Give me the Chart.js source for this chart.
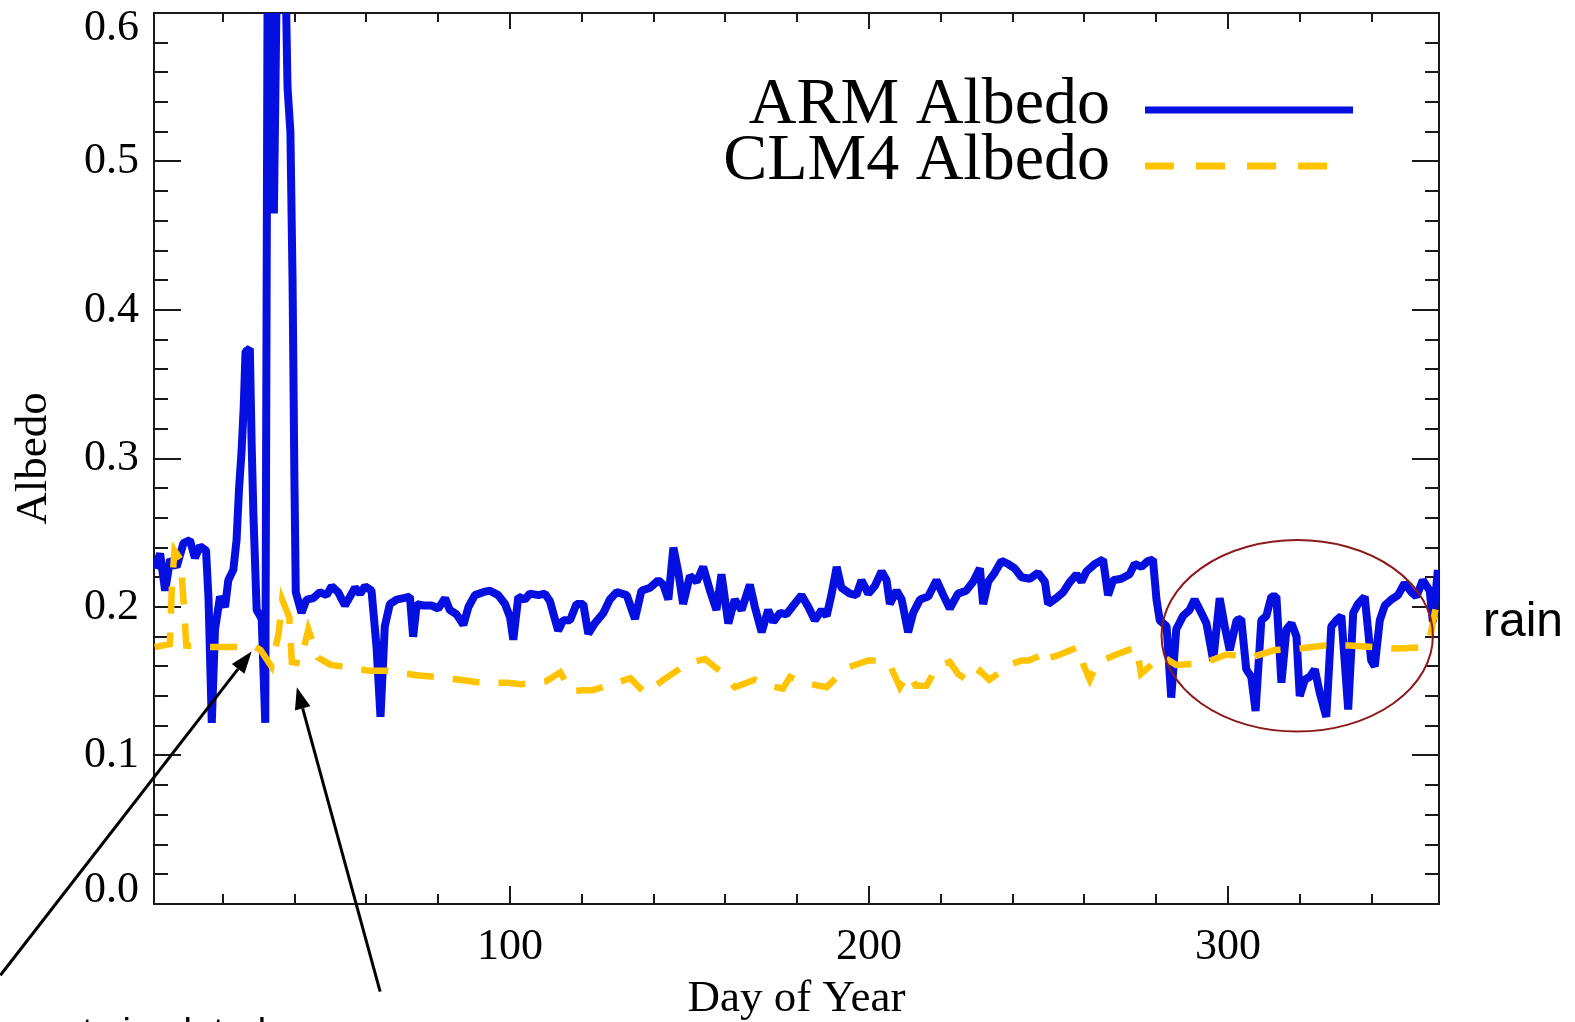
<!DOCTYPE html>
<html>
<head>
<meta charset="utf-8">
<title>ARM vs CLM4 albedo</title>
<script src="https://cdn.jsdelivr.net/npm/chart.js@4.4.1/dist/chart.umd.min.js"></script>
<style>
  html, body { margin: 0; padding: 0; background: #fff; }
  canvas { display: block; }
</style>
</head>
<body>
<canvas id="albedo" width="1575" height="1022"></canvas>
<script>
/* Daily surface albedo at the ARM site: observed vs CLM4 */

var armDay = [1, 2.5, 3.9, 5.3, 7.1, 9, 10.8, 12.2, 13.6, 15.3, 16, 16.9, 17.8, 19.2, 20.6, 21.5,
  22.9, 23.8, 24.5, 25.2, 25.8, 26.3, 27.5, 28, 28.5, 29.4, 30.8, 31.8, 32.5, 33.3, 34.2, 35.2,
  36.2, 37.2, 38, 38.8, 39.4, 39.9, 40.3, 41.9, 43.3, 45.2, 47, 48.9, 50.3, 52.1, 54, 55.4, 56.8,
  58.2, 59.6, 61.4, 62.8, 63.9, 65.1, 66.5, 68.4, 70.3, 72.1, 73, 74, 75.8, 78.1, 80, 81.9, 83.2,
  85.1, 87, 88.4, 90.2, 92.5, 94.4, 96.7, 98.6, 100, 100.9, 102.3, 104.1, 105.5, 107.9, 109.7,
  111.1, 113.4, 114.8, 116.7, 118.5, 120.4, 121.8, 123.6, 126, 127.8, 129.7, 132.5, 134.8, 136.6,
  139, 141.3, 142.7, 144.1, 145.5, 146.9, 148.2, 150.1, 152, 153.8, 155.7, 157.5, 158.9, 160.8,
  162.6, 164.5, 166.8, 168.2, 170.1, 171.9, 173.3, 175.2, 177, 178.9, 181.2, 183.1, 184.9, 186.8,
  188.2, 189.6, 191, 192.3, 194.7, 196.5, 197.9, 199.8, 201.6, 203.5, 204.9, 205.8, 207.7, 209.1,
  210.9, 212.3, 214.2, 216.5, 218.8, 220.7, 222.5, 224.8, 227.1, 229, 230.9, 231.8, 233.2, 235,
  236.9, 238.7, 240.6, 242.5, 244.8, 247.1, 249, 249.9, 252.2, 254.1, 256, 257.8, 259.2, 260.6,
  262.9, 265.2, 266.6, 268, 270.3, 272.6, 274, 275.9, 277.7, 279.1, 280.1, 281, 282.9, 284.2,
  285.6, 287.5, 289.3, 290.7, 292.6, 294, 295.9, 297.7, 299.1, 300.5, 302.4, 303.7, 305.1, 306.5,
  307.7, 309.3, 310.7, 312.1, 313.5, 314.9, 316.3, 317.7, 319.1, 320, 321.4, 322.8, 324.2, 325.6,
  327.4, 328.8, 330.2, 331.6, 333.5, 334.9, 336.2, 338.1, 339.9, 340.9, 342.3, 343.7, 345.5, 347.4,
  349.2, 351.1, 352.5, 354.3, 356.2, 357.1, 358.5];

var armAlbedo = [0.226, 0.236, 0.211, 0.232, 0.227, 0.243, 0.245, 0.233, 0.241, 0.238, 0.205, 0.122,
  0.185, 0.207, 0.200, 0.218, 0.225, 0.245, 0.280, 0.305, 0.335, 0.372, 0.374, 0.310, 0.262, 0.198,
  0.192, 0.122, 0.660, 0.640, 0.465, 0.660, 0.700, 0.660, 0.550, 0.520, 0.420, 0.290, 0.210, 0.196,
  0.205, 0.206, 0.210, 0.208, 0.214, 0.210, 0.201, 0.207, 0.213, 0.209, 0.214, 0.211, 0.173, 0.126,
  0.187, 0.202, 0.205, 0.206, 0.207, 0.180, 0.202, 0.201, 0.201, 0.199, 0.206, 0.198, 0.195, 0.188,
  0.200, 0.208, 0.210, 0.211, 0.208, 0.202, 0.193, 0.178, 0.207, 0.205, 0.209, 0.208, 0.209, 0.204,
  0.184, 0.191, 0.191, 0.202, 0.202, 0.182, 0.189, 0.196, 0.205, 0.210, 0.208, 0.192, 0.211, 0.213,
  0.218, 0.215, 0.205, 0.240, 0.223, 0.202, 0.221, 0.217, 0.227, 0.211, 0.198, 0.222, 0.189, 0.205,
  0.198, 0.215, 0.200, 0.183, 0.198, 0.190, 0.196, 0.195, 0.201, 0.208, 0.200, 0.191, 0.198, 0.194,
  0.209, 0.227, 0.213, 0.209, 0.208, 0.218, 0.209, 0.214, 0.224, 0.218, 0.202, 0.211, 0.205, 0.183,
  0.196, 0.205, 0.207, 0.218, 0.208, 0.199, 0.209, 0.211, 0.217, 0.226, 0.202, 0.217, 0.223, 0.231,
  0.229, 0.226, 0.220, 0.219, 0.223, 0.217, 0.202, 0.206, 0.210, 0.217, 0.222, 0.217, 0.224, 0.229,
  0.232, 0.208, 0.218, 0.219, 0.222, 0.229, 0.227, 0.231, 0.232, 0.205, 0.191, 0.187, 0.139, 0.185,
  0.194, 0.198, 0.205, 0.196, 0.189, 0.164, 0.206, 0.187, 0.171, 0.191, 0.192, 0.158, 0.153, 0.130,
  0.191, 0.194, 0.207, 0.207, 0.149, 0.185, 0.189, 0.180, 0.140, 0.151, 0.153, 0.158, 0.142, 0.126,
  0.187, 0.191, 0.194, 0.131, 0.196, 0.202, 0.207, 0.164, 0.160, 0.191, 0.201, 0.205, 0.208, 0.216,
  0.210, 0.207, 0.218, 0.211, 0.190, 0.225];

var clmDay = [1, 5.2, 5.8, 6.5, 8.2, 9.2, 9.8, 16, 22.8, 28.4, 30.5, 33.5, 35.5, 36.5, 38.5, 39.2,
  41.5, 43.8, 46.5, 50, 53, 61, 66, 74, 79, 86, 92, 99.5, 103, 110, 114, 117, 120, 123, 129.7, 133.5,
  137.6, 140, 142.7, 148.2, 151, 154.3, 158.9, 162.6, 168.2, 172.4, 176, 178, 181.7, 188.2, 193.7,
  199.8, 204, 206, 208.6, 211, 213, 216, 219, 222.5, 224.8, 228.5, 231, 233.5, 236.5, 238, 242.5,
  244.5, 248.5, 249.5, 250.5, 252.2, 258.2, 259.6, 261.5, 263.4, 266, 268.9, 274.5, 275.8, 281.5,
  285.6, 293.1, 299.6, 306.5, 313, 319.5, 327, 334, 341, 347.4, 354.8, 356.5, 358.5];

var clmAlbedo = [0.173, 0.175, 0.215, 0.238, 0.232, 0.198, 0.174, 0.173, 0.173, 0.174, 0.171, 0.160,
  0.182, 0.205, 0.193, 0.163, 0.162, 0.185, 0.166, 0.161, 0.160, 0.157, 0.157, 0.154, 0.153, 0.151,
  0.149, 0.149, 0.148, 0.150, 0.156, 0.143, 0.144, 0.144, 0.149, 0.152, 0.142, 0.146, 0.151, 0.160,
  0.163, 0.165, 0.156, 0.146, 0.151, 0.147, 0.145, 0.153, 0.149, 0.146, 0.159, 0.164, 0.164, 0.160,
  0.146, 0.155, 0.147, 0.147, 0.160, 0.163, 0.155, 0.149, 0.157, 0.151, 0.156, 0.160, 0.164, 0.164,
  0.168, 0.171, 0.166, 0.167, 0.173, 0.162, 0.151, 0.161, 0.165, 0.168, 0.173, 0.155, 0.167, 0.161,
  0.162, 0.168, 0.166, 0.171, 0.172, 0.174, 0.174, 0.173, 0.172, 0.173, 0.182, 0.207];

var xTicks = [100, 200, 300];
var yTicks = [0.0, 0.1, 0.2, 0.3, 0.4, 0.5, 0.6];
var xMinorStep = 20;
var yMinorStep = 0.02;

var serif = '"Liberation Serif", "Times New Roman", serif';
var sans = '"Liberation Sans", Arial, sans-serif';

function points(days, vals) {
  return days.map(function (d, i) {
    return { x: d, y: vals[i] };
  });
}

// box, inward ticks on all four sides and the y labels
var idlAxes = {
  id: "idlAxes",
  beforeDatasetsDraw: function (chart) {
    var ctx = chart.ctx;
    var a = chart.chartArea;
    var xs = chart.scales.x;
    var ys = chart.scales.y;
    ctx.save();
    ctx.strokeStyle = "#1a1a1a";
    ctx.lineWidth = 2;
    ctx.strokeRect(a.left, a.top, a.right - a.left, a.bottom - a.top);

    ctx.beginPath();
    for (var i = 0; i * yMinorStep <= ys.max + 1e-9; i++) {
      var v = i * yMinorStep;
      var major = yTicks.some(function (t) { return Math.abs(t - v) < 1e-6; });
      var len = major ? 27 : 14;
      var py = Math.round(ys.getPixelForValue(v));
      ctx.moveTo(a.left, py);
      ctx.lineTo(a.left + len, py);
      ctx.moveTo(a.right, py);
      ctx.lineTo(a.right - len, py);
    }
    for (var d = xMinorStep; d < xs.max; d += xMinorStep) {
      var big = xTicks.indexOf(d) >= 0;
      var px = Math.round(xs.getPixelForValue(d));
      ctx.moveTo(px, a.bottom);
      ctx.lineTo(px, a.bottom - (big ? 18 : 10));
      ctx.moveTo(px, a.top);
      ctx.lineTo(px, a.top + (big ? 16 : 9));
    }
    ctx.stroke();

    // end labels are pulled inside the box, the way IDL does it
    ctx.fillStyle = "#000";
    ctx.font = "44px " + serif;
    ctx.textAlign = "right";
    ctx.textBaseline = "middle";
    yTicks.forEach(function (t) {
      var y = ys.getPixelForValue(t);
      y = Math.min(Math.max(y, a.top + 15), a.bottom - 14);
      ctx.fillText(t.toFixed(1), a.left - 15, y);
    });
    ctx.restore();
  }
};

function arrow(ctx, x0, y0, x1, y1) {
  var ang = Math.atan2(y1 - y0, x1 - x0);
  var head = 22;
  var half = 8;
  var bx = x1 - head * Math.cos(ang);
  var by = y1 - head * Math.sin(ang);
  ctx.beginPath();
  ctx.moveTo(x0, y0);
  ctx.lineTo(bx, by);
  ctx.stroke();
  ctx.beginPath();
  ctx.moveTo(x1, y1);
  ctx.lineTo(bx + half * Math.sin(ang), by - half * Math.cos(ang));
  ctx.lineTo(bx - half * Math.sin(ang), by + half * Math.cos(ang));
  ctx.closePath();
  ctx.fill();
}

// legend in the upper right, plus the arrows, ring and notes
var notes = {
  id: "notes",
  afterDraw: function (chart) {
    var ctx = chart.ctx;
    var a = chart.chartArea;
    var xs = chart.scales.x;
    var ys = chart.scales.y;
    ctx.save();

    ctx.font = "66px " + serif;
    ctx.textAlign = "right";
    ctx.textBaseline = "alphabetic";
    ctx.fillStyle = "#000";
    chart.data.datasets.forEach(function (ds, i) {
      var base = 123 + i * 56;
      ctx.fillText(ds.label, 1110, base);
      ctx.strokeStyle = ds.borderColor;
      ctx.lineWidth = 7;
      ctx.setLineDash(ds.borderDash ? [29, 22] : []);
      ctx.beginPath();
      ctx.moveTo(1145, base - 13);
      ctx.lineTo(1145 + (ds.borderDash ? 184 : 208), base - 13);
      ctx.stroke();
    });
    ctx.setLineDash([]);

    ctx.strokeStyle = "#000";
    ctx.fillStyle = "#000";
    ctx.lineWidth = 3;
    arrow(ctx, xs.getPixelForValue(-42), ys.getPixelForValue(-0.048),
      xs.getPixelForValue(28.0), ys.getPixelForValue(0.170));
    arrow(ctx, xs.getPixelForValue(63.8), ys.getPixelForValue(-0.059),
      xs.getPixelForValue(40.6), ys.getPixelForValue(0.146));

    var cx = xs.getPixelForValue(319.3);
    var cy = ys.getPixelForValue(0.1806);
    var rx = xs.getPixelForValue(319.3 + 37.8) - cx;
    var ry = cy - ys.getPixelForValue(0.1806 + 0.0645);
    ctx.strokeStyle = "#8b1a1a";
    ctx.lineWidth = 2;
    ctx.beginPath();
    ctx.ellipse(cx, cy, rx, ry, 0, 0, Math.PI * 2);
    ctx.stroke();

    ctx.fillStyle = "#000";
    ctx.textAlign = "left";
    ctx.font = "48px " + sans;
    ctx.fillText("rain", a.right + 44, ys.getPixelForValue(0.1805));
    // the arrow note runs off the bottom edge
    ctx.font = "38px " + sans;
    ctx.fillText("not simulated", 40, a.bottom + 141);
    ctx.restore();
  }
};

new Chart(document.getElementById("albedo").getContext("2d"), {
  type: "line",
  data: {
    datasets: [
      {
        label: "ARM Albedo",
        data: points(armDay, armAlbedo),
        borderColor: "#0510e0",
        borderWidth: 8,
        borderJoinStyle: "bevel",
        clip: 0,
        order: 1
      },
      {
        label: "CLM4 Albedo",
        data: points(clmDay, clmAlbedo),
        borderColor: "#ffc300",
        borderWidth: 6.5,
        borderDash: [27, 19],
        clip: 0,
        order: 0
      }
    ]
  },
  options: {
    responsive: false,
    animation: false,
    devicePixelRatio: 1,
    layout: { padding: { top: 13, right: 136, left: 0, bottom: 0 } },
    elements: { point: { radius: 0 }, line: { tension: 0 } },
    plugins: { legend: { display: false }, tooltip: { enabled: false } },
    scales: {
      x: {
        type: "linear",
        min: 0.8,
        max: 358.8,
        grid: { display: false, drawTicks: false },
        border: { display: false },
        ticks: {
          color: "#000",
          font: { family: serif, size: 44 },
          padding: 17,
          maxRotation: 0,
          autoSkip: false
        },
        afterBuildTicks: function (scale) {
          scale.ticks = xTicks.map(function (v) { return { value: v }; });
        },
        afterFit: function (scale) { scale.height = 118; },
        title: {
          display: true,
          text: "Day of Year",
          color: "#000",
          font: { family: serif, size: 45, lineHeight: 1 },
          padding: { top: 0, bottom: 0 }
        }
      },
      y: {
        min: 0,
        max: 0.6,
        grid: { display: false, drawTicks: false },
        border: { display: false },
        ticks: { display: false },
        afterFit: function (scale) { scale.width = 154; },
        title: {
          display: true,
          text: "Albedo",
          color: "#000",
          font: { family: serif, size: 45, lineHeight: 1 },
          padding: { top: 12, bottom: 0 }
        }
      }
    }
  },
  plugins: [idlAxes, notes]
});
</script>
</body>
</html>
